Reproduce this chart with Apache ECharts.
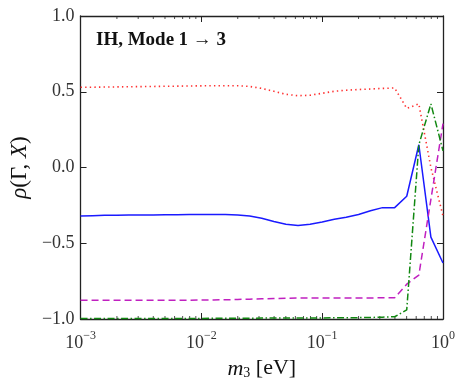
<!DOCTYPE html>
<html>
<head>
<meta charset="utf-8">
<script src="https://cdn.jsdelivr.net/npm/echarts@6/dist/echarts.min.js"></script>
<style>
	html, body { margin: 0; padding: 0; background: #fff; }
	#chart { width: 463px; height: 388px; }
</style>
</head>
<body>
<div id="chart"></div>
<script>
// m3 values [eV], log spaced
var m3 = [0.001, 0.00126, 0.00158, 0.002, 0.00251, 0.00316, 0.00398, 0.00501, 0.00631, 0.00794,
	0.01, 0.0126, 0.0158, 0.02, 0.0251, 0.0316, 0.0398, 0.0501, 0.0631, 0.0794,
	0.1, 0.126, 0.158, 0.2, 0.251, 0.316, 0.398, 0.501, 0.631, 0.794, 1.0];

// red dotted
var rhoRed = [0.53, 0.53, 0.531, 0.532, 0.533, 0.534, 0.535, 0.536, 0.537, 0.538,
	0.539, 0.54, 0.54, 0.54, 0.535, 0.522, 0.503, 0.483, 0.474, 0.477,
	0.49, 0.503, 0.51, 0.515, 0.518, 0.522, 0.525, 0.39, 0.42, 0.0, -0.32];
// blue solid
var rhoBlue = [-0.32, -0.318, -0.316, -0.315, -0.314, -0.313, -0.313, -0.312, -0.312, -0.311,
	-0.31, -0.31, -0.31, -0.313, -0.32, -0.335, -0.357, -0.375, -0.383, -0.375,
	-0.36, -0.342, -0.328, -0.31, -0.285, -0.265, -0.265, -0.19, 0.15, -0.46, -0.63];
// magenta dashed
var rhoMagenta = [-0.876, -0.876, -0.876, -0.876, -0.876, -0.876, -0.876, -0.876, -0.876, -0.876,
	-0.875, -0.874, -0.873, -0.871, -0.869, -0.867, -0.865, -0.863, -0.862, -0.862,
	-0.862, -0.862, -0.862, -0.861, -0.861, -0.86, -0.86, -0.77, -0.71, -0.21, 0.29];
// green dash-dot
var rhoGreen = [-0.996, -0.996, -0.996, -0.996, -0.996, -0.996, -0.996, -0.996, -0.996, -0.996,
	-0.996, -0.995, -0.995, -0.995, -0.995, -0.994, -0.994, -0.994, -0.993, -0.993,
	-0.993, -0.992, -0.992, -0.991, -0.99, -0.988, -0.985, -0.94, 0.15, 0.42, 0.11];

var yTicks = [-1.0, -0.5, 0.0, 0.5, 1.0];
var minorX = [0.002, 0.003, 0.004, 0.005, 0.006, 0.007, 0.008, 0.009,
	0.02, 0.03, 0.04, 0.05, 0.06, 0.07, 0.08, 0.09,
	0.2, 0.3, 0.4, 0.5, 0.6, 0.7, 0.8, 0.9];

var FONT = '"Liberation Serif", "DejaVu Serif", serif';
var AXIS_COLOR = '#222';

function pairs(ys) {
	return m3.map(function(x, i) { return [x, ys[i]]; });
}

var myChart = echarts.init(document.getElementById('chart'));
var option = {
	animation: false,
	backgroundColor: '#fff',
	textStyle: { fontFamily: FONT },
	grid: { left: 80, right: 20, top: 16, bottom: 69 },
	title: {
		text: '{b|IH, Mode} {n|1 → 3}',
		left: 91, top: 26,
		textStyle: {
			rich: {
				b: { fontFamily: FONT, fontSize: 19, fontWeight: 'bold', color: '#111' },
				n: { fontFamily: FONT, fontSize: 19, color: '#111' }
			}
		}
	},
	xAxis: [{
		type: 'log', logBase: 10, min: 0.001, max: 1,
		position: 'bottom',
		name: '{i|m}{sub|3} [eV]', nameLocation: 'middle', nameGap: 34,
		nameTextStyle: {
			rich: {
				i: { fontFamily: FONT, fontSize: 22, fontStyle: 'italic', color: '#111', verticalAlign: 'bottom', lineHeight: 24 },
				sub: { fontFamily: FONT, fontSize: 14, color: '#111', verticalAlign: 'bottom', lineHeight: 17 }
			},
			fontFamily: FONT, fontSize: 22, color: '#111'
		},
		axisLine: { onZero: false, lineStyle: { color: AXIS_COLOR, width: 1.3 } },
		axisTick: { inside: true, length: 6, lineStyle: { color: AXIS_COLOR, width: 1 } },
		splitLine: { show: false },
		axisLabel: {
			margin: 11,
			formatter: function(v) {
				var e = Math.round(Math.log10(v));
				return '{b|10}{s|' + (e < 0 ? '−' + (-e) : e) + '}';
			},
			rich: {
				b: { fontFamily: FONT, fontSize: 18, color: '#333', verticalAlign: 'bottom', lineHeight: 22 },
				s: { fontFamily: FONT, fontSize: 12, color: '#333', verticalAlign: 'top', lineHeight: 12 }
			}
		}
	}, {
		type: 'log', logBase: 10, min: 0.001, max: 1,
		position: 'top',
		axisLine: { onZero: false, lineStyle: { color: AXIS_COLOR, width: 1.3 } },
		axisTick: { inside: true, length: 6, lineStyle: { color: AXIS_COLOR, width: 1 } },
		axisLabel: { show: false },
		splitLine: { show: false }
	}],
	yAxis: [{
		type: 'value', min: -1, max: 1, interval: 0.5,
		position: 'left',
		name: '{i|ρ}(Γ, {i|X})', nameLocation: 'middle', nameGap: 46, nameRotate: 90,
		nameTextStyle: {
			fontFamily: FONT, fontSize: 23, color: '#111',
			rich: {
				i: { fontFamily: FONT, fontSize: 23, fontStyle: 'italic', color: '#111' }
			}
		},
		axisLine: { onZero: false, lineStyle: { color: AXIS_COLOR, width: 1.3 } },
		axisTick: { inside: true, length: 6, lineStyle: { color: AXIS_COLOR, width: 1 } },
		splitLine: { show: false },
		axisLabel: {
			margin: 6, fontFamily: FONT, fontSize: 18, color: '#333',
			formatter: function(v) { return v.toFixed(1).replace('-', '−'); }
		}
	}, {
		type: 'value', min: -1, max: 1, interval: 0.5,
		position: 'right',
		axisLine: { show: true, onZero: false, lineStyle: { color: AXIS_COLOR, width: 1.3 } },
		axisTick: { show: true, inside: true, length: 6, lineStyle: { color: AXIS_COLOR, width: 1 } },
		axisLabel: { show: false },
		splitLine: { show: false }
	}],
	series: [
		{
			name: 'red', type: 'line', data: pairs(rhoRed), showSymbol: false,
			lineStyle: { color: '#ff3030', width: 1.6, type: [1.4, 3.2] }
		},
		{
			name: 'blue', type: 'line', data: pairs(rhoBlue), showSymbol: false,
			lineStyle: { color: '#1a1aff', width: 1.5 }
		},
		{
			name: 'magenta', type: 'line', data: pairs(rhoMagenta), showSymbol: false,
			lineStyle: { color: '#c020c0', width: 1.5, type: [7, 4] }
		},
		{
			name: 'green', type: 'line', data: pairs(rhoGreen), showSymbol: false,
			lineStyle: { color: '#118811', width: 1.5, type: [7, 2.5, 1.5, 2.5] }
		},
		{
			// minor ticks of the log axis (bottom and top)
			name: 'minor', type: 'custom', silent: true,
			data: minorX.map(function(x) { return [x, -1]; }),
			renderItem: function(params, api) {
				var b = api.coord([api.value(0), -1]);
				var t = api.coord([api.value(0), 1]);
				var st = { stroke: AXIS_COLOR, lineWidth: 0.8 };
				return {
					type: 'group',
					children: [
						{ type: 'line', shape: { x1: b[0], y1: b[1], x2: b[0], y2: b[1] - 3 }, style: st },
						{ type: 'line', shape: { x1: t[0], y1: t[1], x2: t[0], y2: t[1] + 3 }, style: st }
					]
				};
			}
		}
	]
};
myChart.setOption(option);
</script>
</body>
</html>
